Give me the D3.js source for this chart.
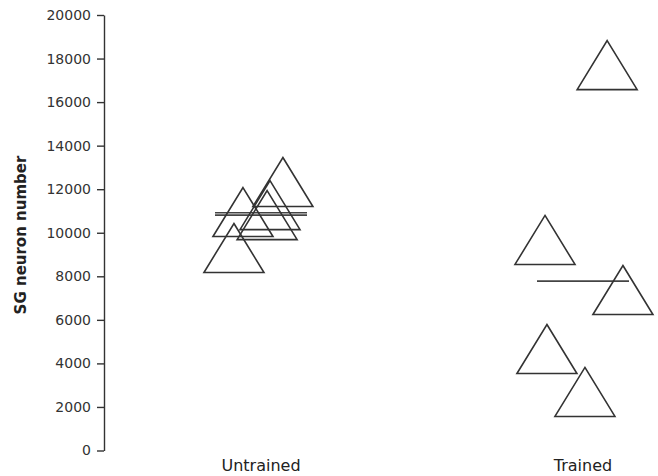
<!DOCTYPE html>
<html>
<head>
<meta charset="utf-8">
<script src="https://cdn.jsdelivr.net/npm/d3@7"></script>
<style>
  body { margin: 0; background: #fff; }
  svg { display: block; }
</style>
</head>
<body>
<script>
// data
const groups = ["Untrained", "Trained"];
const groupPos = [1, 2];

// each triangle: group, x position (data units, jitter around group), SG neuron number
const pointGroup = ["Untrained", "Untrained", "Untrained", "Untrained", "Untrained",
                    "Trained", "Trained", "Trained", "Trained", "Trained"];
const pointX = [0.944, 0.916, 1.068, 1.028, 1.019,
                2.075, 1.882, 2.124, 1.888, 2.006];
const pointY = [10950, 9300, 12330, 11270, 10810,
                17700, 9670, 7370, 4660, 2690];

// horizontal lines (group summary)
const lineGroup = ["Untrained", "Untrained", "Trained"];
const lineValue = [10920, 10810, 7780];

const yTicks = [0, 2000, 4000, 6000, 8000, 10000, 12000, 14000, 16000, 18000, 20000];

const width = 658, height = 476;

const svg = d3.select("body").append("svg")
    .attr("width", width)
    .attr("height", height);

// scales
let x = d3.scaleLinear()
    .domain([1, 2])
    .range([261, 583]);

let y = d3.scaleLinear()
    .domain([0, 20000])
    .range([450.5, 15]);

const posOf = g => groupPos[groups.indexOf(g)];

// y axis
const yAxis = svg.append("g")
    .attr("transform", "translate(104,0)")
    .call(d3.axisLeft(y).tickValues(yTicks).tickFormat(d3.format("d"))
        .tickSize(7).tickSizeOuter(0).tickPadding(6));

yAxis.select(".domain").attr("stroke", "#333").attr("stroke-width", 1.4);
yAxis.selectAll(".tick line").attr("stroke", "#333").attr("stroke-width", 1.4);
yAxis.selectAll("text")
    .attr("fill", "#333")
    .style("font-family", "'DejaVu Sans', Verdana, sans-serif")
    .style("font-size", "14px");

// y label
svg.append("text")
    .attr("transform", "translate(26,235) rotate(-90)")
    .attr("text-anchor", "middle")
    .style("font-family", "'DejaVu Sans', Verdana, sans-serif")
    .style("font-size", "15px")
    .style("font-weight", "bold")
    .attr("fill", "#222")
    .text("SG neuron number");

// category labels
svg.selectAll(".cat")
    .data(groups)
    .enter()
    .append("text")
    .attr("class", "cat")
    .attr("x", (d, i) => x(groupPos[i]))
    .attr("y", 471)
    .attr("text-anchor", "middle")
    .style("font-family", "'DejaVu Sans', Verdana, sans-serif")
    .style("font-size", "16px")
    .attr("fill", "#222")
    .text(d => d);

// summary lines
const halfW = 46;
svg.selectAll(".mline")
    .data(lineValue)
    .enter()
    .append("line")
    .attr("x1", (d, i) => x(posOf(lineGroup[i])) - halfW)
    .attr("x2", (d, i) => x(posOf(lineGroup[i])) + halfW)
    .attr("y1", d => y(d))
    .attr("y2", d => y(d))
    .attr("stroke", "#444")
    .attr("stroke-width", 1.6);

// triangle markers
const triW = 60, triH = 49;
const tri = `M0,${-triH / 2}L${triW / 2},${triH / 2}L${-triW / 2},${triH / 2}Z`;

svg.selectAll(".tri")
    .data(pointY)
    .enter()
    .append("path")
    .attr("d", tri)
    .attr("transform", (d, i) => `translate(${x(pointX[i])},${y(d)})`)
    .attr("fill", "none")
    .attr("stroke", "#333")
    .attr("stroke-width", 1.6)
    .attr("stroke-linejoin", "miter");
</script>
</body>
</html>
